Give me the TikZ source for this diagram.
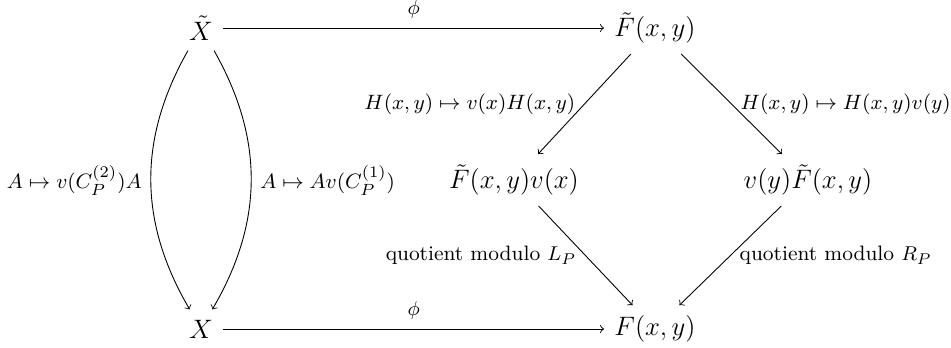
\documentclass[tikz,border=0pt]{standalone}
\usepackage{amsmath}
\begin{document}
\begin{tikzpicture}[x=0.45pt,y=-0.45pt,
  obj/.style={font=\large, inner sep=4.5pt},
  arr/.style={->, line width=0.4pt},
  lbl/.style={font=\fontsize{9.4}{11.5}\selectfont, inner sep=4pt},
  mlbl/.style={lbl, scale=1.04, inner sep=3.8pt}]
\useasboundingbox (0,0) rectangle (951,348);
\node[obj] (Xt) at (201,28) {$\tilde{X}$};
\node[obj] (Ft) at (655,28) {$\tilde{F}(x,y)$};
\node[obj] (X)  at (201,329) {$X$};
\node[obj] (F)  at (655,329) {$F(x,y)$};
\node[obj] (FL) at (514,180) {$\tilde{F}(x,y)v(x)$};
\node[obj] (FR) at (808,180) {$v(y)\tilde{F}(x,y)$};

\draw[arr] (Xt) -- node[lbl,above] {$\phi$} (Ft);
\draw[arr] (X) -- node[lbl,above] {$\phi$} (F);
\draw[arr] (Xt) to[bend right=30] node[mlbl,left] {$A\mapsto v(C_P^{(2)})A$} (X);
\draw[arr] (Xt) to[bend left=30] node[mlbl,right] {$A\mapsto Av(C_P^{(1)})$} (X);
\draw[arr] (Ft) -- node[mlbl,left] {$H(x,y)\mapsto v(x)H(x,y)$} (FL);
\draw[arr] (Ft) -- node[mlbl,right] {$H(x,y)\mapsto H(x,y)v(y)$} (FR);
\draw[arr] (FL) -- node[lbl,left] {quotient modulo $L_P$} (F);
\draw[arr] (FR) -- node[lbl,right] {quotient modulo $R_P$} (F);
\end{tikzpicture}
\end{document}
